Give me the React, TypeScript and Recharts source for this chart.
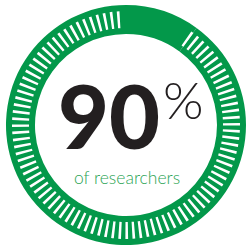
import React from 'react';
import { PieChart, Pie, Cell } from 'recharts';

const PERCENT = 90;
const TOTAL = 100;
const VALUE_LABEL = '90';
const CAPTION = 'of researchers';

const RING_GREEN = '#03984a';
const CAPTION_GREEN = '#2ba455';
const INK = '#231f20';

// ring split into the share and the rest
const ringData = [
  { name: 'share', value: PERCENT },
  { name: 'rest', value: TOTAL - PERCENT },
];

// one white tick per percent of the share, the rest stays plain green
const tickData: { value: number; tick: boolean }[] = [];
for (let i = 0; i < PERCENT; i++) {
  tickData.push({ value: 0.38, tick: true });
  tickData.push({ value: 0.62, tick: false });
}
tickData.push({ value: TOTAL - PERCENT, tick: false });

const START = 93.3;

export default function App() {
  return (
    <div style={{ position: 'absolute', left: 0, top: 0 }}>
      <PieChart width={246} height={248} margin={{ top: 0, right: 0, bottom: 0, left: 0 }}>
        <Pie
          data={ringData}
          dataKey="value"
          cx={126}
          cy={125}
          innerRadius={91}
          outerRadius={120}
          startAngle={90}
          endAngle={450}
          stroke="none"
          isAnimationActive={false}
        >
          {ringData.map((d, i) => (
            <Cell key={`ring-${i}`} fill={RING_GREEN} />
          ))}
        </Pie>
        <Pie
          data={tickData}
          dataKey="value"
          cx={126}
          cy={125}
          innerRadius={97}
          outerRadius={114}
          startAngle={START}
          endAngle={START + 360}
          stroke="none"
          isAnimationActive={false}
        >
          {tickData.map((d, i) => (
            <Cell key={`tick-${i}`} fill={d.tick ? '#ffffff' : 'transparent'} />
          ))}
        </Pie>
        <text x={58} y={149} fill={INK} fontFamily="Lato" fontWeight={900} fontSize={88}>
          {VALUE_LABEL}
        </text>
        <text x={163} y={119} fill={INK} fontFamily="Lato" fontWeight={300} fontSize={52}>
          %
        </text>
        <text x={74} y={184} fill={CAPTION_GREEN} fontFamily="Lato" fontWeight={300} fontSize={17.5}>
          {CAPTION}
        </text>
      </PieChart>
    </div>
  );
}
